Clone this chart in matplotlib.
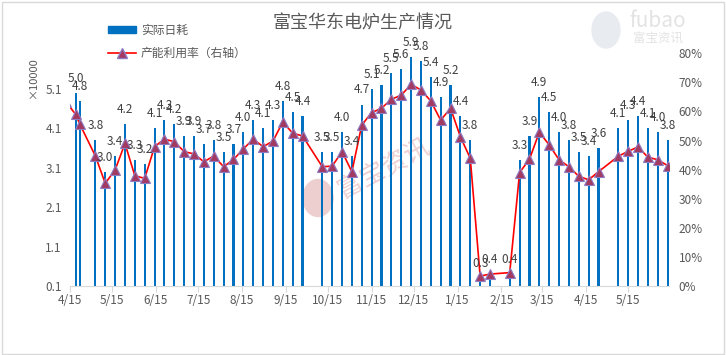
import matplotlib
matplotlib.use("Agg")
import matplotlib.pyplot as plt
import matplotlib.dates as mdates
from matplotlib.patches import Rectangle, Ellipse
from matplotlib.lines import Line2D
from matplotlib.ticker import FixedLocator, FuncFormatter, PercentFormatter
import pandas as pd

plt.rcParams['font.family'] = ['Noto Sans CJK SC', 'DejaVu Sans']

# weekly data; first point sits left of the visible range (only its line stub shows)
dates = pd.to_datetime([
    "2023-04-12", "2023-04-19", "2023-04-22",
    "2023-05-03", "2023-05-10", "2023-05-17", "2023-05-24", "2023-05-31",
    "2023-06-07", "2023-06-14", "2023-06-21", "2023-06-28",
    "2023-07-05", "2023-07-12", "2023-07-19", "2023-07-26",
    "2023-08-02", "2023-08-09", "2023-08-16", "2023-08-23", "2023-08-30",
    "2023-09-06", "2023-09-13", "2023-09-20", "2023-09-27",
    "2023-10-11", "2023-10-18", "2023-10-25",
    "2023-11-01", "2023-11-08", "2023-11-15", "2023-11-22", "2023-11-29",
    "2023-12-06", "2023-12-13", "2023-12-20", "2023-12-27",
    "2024-01-03", "2024-01-10", "2024-01-17", "2024-01-24", "2024-01-31",
    "2024-02-07", "2024-02-21", "2024-02-28",
    "2024-03-06", "2024-03-13", "2024-03-20", "2024-03-27",
    "2024-04-03", "2024-04-10", "2024-04-17", "2024-04-24",
    "2024-05-08", "2024-05-15", "2024-05-22", "2024-05-29",
    "2024-06-05", "2024-06-12",
])

# 实际日耗 (×10000)
daily_use = [
    5.4, 5.0, 4.8,
    3.8, 3.0, 3.4, 4.2, 3.3,
    3.2, 4.1, 4.3, 4.2,
    3.9, 3.9, 3.7, 3.8,
    3.5, 3.7, 4.0, 4.3, 4.1,
    4.3, 4.8, 4.5, 4.4,
    3.5, 3.5, 4.0,
    3.4, 4.7, 5.1, 5.2, 5.5,
    5.6, 5.9, 5.8, 5.4,
    4.9, 5.2, 4.4, 3.8, 0.3,
    0.4, 0.4, 3.3,
    3.9, 4.9, 4.5, 4.0,
    3.8, 3.5, 3.4, 3.6,
    4.1, 4.3, 4.4, 4.1,
    4.0, 3.8,
]

# 产能利用率 (%)
utilization = [
    63.4, 59.0, 55.6,
    44.7, 35.3, 39.9, 49.0, 37.9,
    37.0, 47.9, 50.5, 49.6,
    46.2, 45.4, 42.7, 44.7,
    41.0, 43.5, 47.1, 50.5, 47.9,
    49.8, 56.4, 52.5, 51.6,
    41.0, 41.2, 46.2,
    39.3, 55.3, 59.6, 61.1, 64.2,
    65.6, 69.3, 67.4, 63.6,
    57.0, 61.1, 51.3, 43.9, 3.4,
    4.1, 4.6, 39.0,
    43.6, 52.9, 48.5, 43.4,
    41.0, 37.7, 36.5, 39.3,
    44.6, 46.3, 47.8, 44.3,
    43.4, 41.4,
]

left_ticks = [0.1, 1.1, 2.1, 3.1, 4.1, 5.1]
x_start = pd.Timestamp("2023-04-15")
x_end = pd.Timestamp("2024-06-13")

txt_color = "#595959"
bar_color = "#0070C0"

fig = plt.figure(figsize=(7.26, 3.55), dpi=100)
fig.patches.append(Rectangle((0.003, 0.004), 0.994, 0.99, transform=fig.transFigure,
                             fill=False, edgecolor="#D9D9D9", linewidth=1.0))

# watermarks (behind the chart)
fig.patches.append(Ellipse((606 / 726, 1 - 30 / 355), 28 / 726, 36 / 355,
                           transform=fig.transFigure, color="#E8ECF0", zorder=-2))
fig.text(658 / 726, 1 - 21 / 355, "fubao", ha="center", va="center",
         fontsize=15, color="#E3E3E3", zorder=-2)
fig.text(658 / 726, 1 - 39 / 355, "富宝资讯", ha="center", va="center",
         fontsize=9, color="#E3E3E3", zorder=-2)
fig.patches.append(Ellipse((318 / 726, 1 - 198 / 355), 30 / 726, 37 / 355,
                           transform=fig.transFigure, color="#EDCFCF", zorder=-2))
fig.text(384 / 726, 1 - 168 / 355, "富宝资讯", rotation=28, ha="center",
         va="center", fontsize=18, color="#EFCFCF", zorder=-2)

ax = fig.add_axes([70 / 726, 1 - 286 / 355, 599 / 726, 232.7 / 355])
ax.patch.set_alpha(0)
ax2 = ax.twinx()

ax.bar(dates, daily_use, width=1.5, color=bar_color, zorder=2)
ax.set_xlim(x_start, x_end)
ax.set_ylim(0.1, 6.0)
ax.yaxis.set_major_locator(FixedLocator(left_ticks))
ax.yaxis.set_major_formatter(FuncFormatter(lambda v, p: f"{v:.1f}"))

ax2.plot(dates, [u / 100 for u in utilization], color="#FF0000", linewidth=1.2,
         marker="^", markersize=6.5, markerfacecolor="#A23A62",
         markeredgecolor="#8E7CC3", markeredgewidth=0.8, zorder=3)
ax2.set_ylim(0, 0.8)
ax2.yaxis.set_major_locator(FixedLocator([i / 10 for i in range(9)]))
ax2.yaxis.set_major_formatter(PercentFormatter(1.0, decimals=0))

ax.xaxis.set_major_locator(mdates.MonthLocator(bymonthday=15))
ax.xaxis.set_major_formatter(FuncFormatter(
    lambda v, p: f"{mdates.num2date(v).month}/{mdates.num2date(v).day}"))

for a in (ax, ax2):
    for s in ("top", "left", "right"):
        a.spines[s].set_visible(False)
    a.spines["bottom"].set_color("#D9D9D9")
    a.tick_params(colors=txt_color, labelsize=8.5, length=0)
ax2.spines["bottom"].set_visible(False)
ax.tick_params(axis="x", length=4, color="#D9D9D9", pad=2)
ax.tick_params(axis="y", pad=6)
ax2.tick_params(axis="y", pad=7)

# bar value labels
for d, v in zip(dates, daily_use):
    if x_start <= d <= x_end:
        ax2.annotate(f"{v:.1f}", xy=(mdates.date2num(d), v), xycoords=ax.transData,
                     xytext=(0, 10.5), textcoords="offset points",
                     ha="center", va="center", fontsize=8.5, color="#404040",
                     zorder=5)

# title
fig.text(363 / 726, 1 - 23 / 355, "富宝华东电炉生产情况", ha="center", va="center",
         fontsize=13, color=txt_color)

# legend
handles = [
    Rectangle((0, 0), 1, 1, color=bar_color),
    Line2D([], [], color="#FF0000", linewidth=1.2, marker="^", markersize=6.5,
           markerfacecolor="#A23A62", markeredgecolor="#8E7CC3"),
]
fig.legend(handles, ["实际日耗", "产能利用率（右轴）"], loc="upper left",
           bbox_to_anchor=(97 / 726, 1 - 13 / 355), frameon=False,
           fontsize=8.5, labelcolor=txt_color, handlelength=2.4,
           handleheight=0.5, labelspacing=0.85, handletextpad=0.4)

fig.text(33 / 726, 1 - 78 / 355, "×10000", rotation=90, ha="center", va="center",
         fontsize=8, color=txt_color)

fig.savefig("out.png", dpi=100)
